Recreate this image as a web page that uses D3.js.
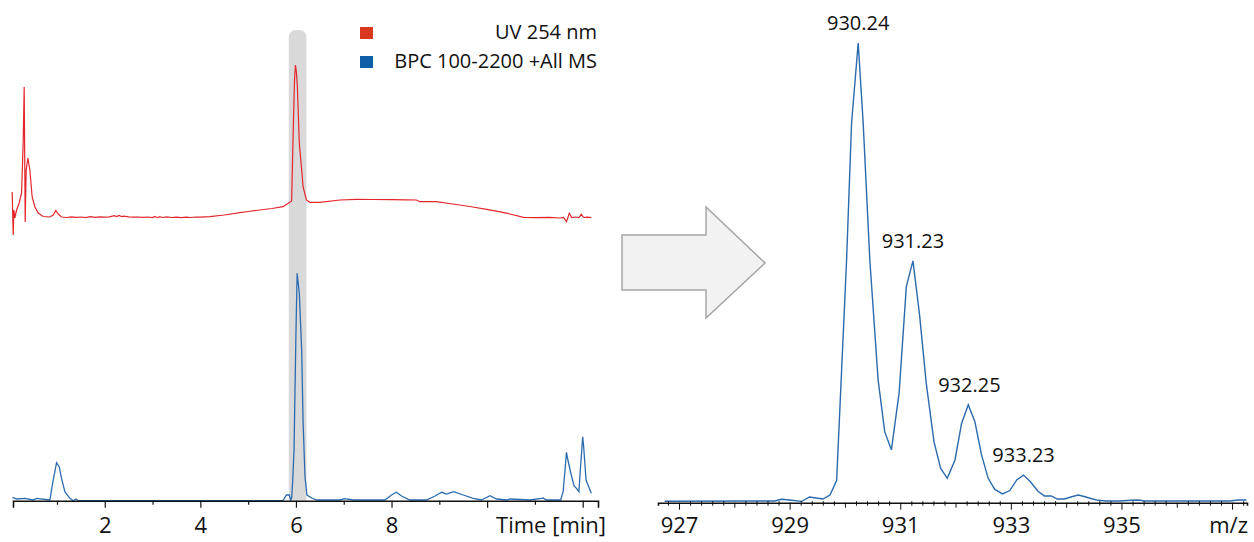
<!DOCTYPE html>
<html>
<head>
<meta charset="utf-8">
<script src="https://cdn.jsdelivr.net/npm/d3@7"></script>
<style>
    body { margin: 0; background: #fff; }
    text { font-family: "Open Sans", sans-serif; fill: #111; }
</style>
</head>
<body>
<div id="chart"></div>
<script>
// UV 254 nm trace (time in min, relative absorbance)
var uvTime = [0.063, 0.084, 0.098, 0.119, 0.155, 0.209, 0.259, 0.293, 0.314, 0.335,
    0.356, 0.391, 0.433, 0.481, 0.538, 0.607, 0.711, 0.851, 0.921, 0.977,
    1.025, 1.096, 1.2, 1.3, 1.4, 1.5, 1.6, 1.7, 1.8, 1.9,
    2.0, 2.1, 2.2, 2.25, 2.3, 2.35, 2.4, 2.5, 2.6, 2.7,
    2.8, 2.9, 3.0, 3.05, 3.1, 3.15, 3.2, 3.3, 3.4, 3.5,
    3.6, 3.7, 3.8, 3.9, 4.0, 4.2, 4.5, 4.83, 5.0, 5.24,
    5.5, 5.73, 5.84, 5.91, 5.94, 5.97, 5.99, 6.01, 6.03, 6.07,
    6.12, 6.15, 6.22, 6.29, 6.5, 6.92, 7.27, 7.6, 8.0, 8.3,
    8.52, 8.59, 8.94, 9.2, 9.43, 9.7, 9.99, 10.25, 10.48, 10.76,
    11.0, 11.3, 11.52, 11.6, 11.66, 11.72, 11.77, 11.85, 11.92, 11.97,
    12.02, 12.1, 12.18];
var uvSignal = [58, 15, 40, 32, 40, 47, 57, 107, 163, 28,
    80, 92, 80, 53, 43, 37, 33.5, 33, 35, 39.5,
    36, 33, 32.5, 33.2, 32.6, 33, 32.4, 33.3, 32.7, 33.1,
    32.8, 33.2, 34.3, 33.5, 34.6, 33.4, 33.8, 33.2, 32.8, 33,
    32.6, 33, 32.4, 33.6, 32.3, 33.4, 32.5, 33.1, 32.5, 32.9,
    32.4, 32.8, 32.5, 33, 32.8, 33.3, 35, 37.3, 38.5, 40,
    41.5, 43.3, 46.7, 49, 113, 170, 185, 178, 163, 107,
    80, 63, 50, 47.7, 47.7, 50, 50.7, 50.5, 50.3, 50.2,
    50, 48.3, 48.3, 46.5, 45, 43, 40.7, 38.3, 36, 32.7,
    32.3, 32.6, 32, 32.5, 28.3, 36.7, 32.5, 33, 32.4, 35.7,
    32.5, 32.8, 32.3];

// BPC 100-2200 +All MS trace
var bpcTime = [0.071, 0.155, 0.328, 0.502, 0.573, 0.851, 0.921, 0.992, 1.046, 1.096,
    1.165, 1.27, 1.339, 1.395, 1.444, 2.0, 3.0, 4.0, 5.0, 5.73,
    5.8, 5.86, 5.89, 5.91, 5.93, 5.96, 6.0, 6.025, 6.07, 6.12,
    6.15, 6.19, 6.23, 6.33, 6.43, 6.92, 7.02, 7.2, 7.86, 8.0,
    8.1, 8.21, 8.38, 8.73, 8.91, 9.05, 9.15, 9.3, 9.5, 9.71,
    9.88, 10.06, 10.2, 10.41, 10.48, 10.89, 11.14, 11.17, 11.24, 11.54,
    11.59, 11.63, 11.66, 11.69, 11.76, 11.82, 11.87, 11.92, 11.95, 12.0,
    12.02, 12.07, 12.11, 12.18];
var bpcSignal = [3.4, 1.7, 2.4, 0.7, 2.4, 0.7, 20.7, 38, 34, 22.4,
    9, 2.4, 0, 1.7, 0, 0, 0, 0, 0, 0,
    5.7, 5.7, 0.7, 2.7, 17.7, 50.7, 167, 227.4, 207.7, 150.7,
    77.7, 23.7, 5.7, 2.7, 0.7, 0.7, 2, 0.7, 0.7, 5.7,
    8.4, 4.7, 0.7, 0.7, 4.7, 8.4, 6.7, 9, 5.7, 2.4,
    0.7, 5, 1.7, 0.7, 1.7, 0.7, 2.4, 2.7, 0.7, 0.7,
    9, 30.7, 48.4, 40.7, 25.7, 14.7, 12.4, 9, 30.7, 64,
    54, 20.7, 15.7, 7.4];

// mass spectrum at 6.0 min
var msMz = [926.74, 928.73, 928.85, 929.0, 929.22, 929.36, 929.6, 929.73, 929.85, 930.03,
    930.12, 930.24, 930.33, 930.45, 930.6, 930.72, 930.84, 930.98, 931.11, 931.23,
    931.35, 931.47, 931.61, 931.73, 931.85, 931.99, 932.11, 932.23, 932.35, 932.47,
    932.59, 932.71, 932.85, 932.98, 933.11, 933.23, 933.35, 933.49, 933.61, 933.73,
    933.84, 933.97, 934.1, 934.22, 934.34, 934.46, 934.58, 934.73, 934.97, 935.18,
    935.3, 935.42, 936.96, 937.11, 937.26];
var msIntensity = [0.3, 0.37, 0.74, 0.59, 0.3, 1.24, 0.8, 1.67, 4.8, 52.8,
    82.6, 100, 82.6, 52.8, 26.7, 15.4, 11.5, 23.9, 47, 52.6,
    40.8, 26, 13.3, 7.5, 5.3, 9.3, 17.3, 21.3, 17.6, 10.4,
    5.3, 2.9, 1.9, 2.65, 5.0, 6.0, 4.6, 2.5, 1.46, 1.46,
    0.8, 0.8, 1.3, 1.67, 1.3, 0.87, 0.52, 0.37, 0.37, 0.52,
    0.59, 0.37, 0.37, 0.59, 0.59];

var peakLabels = [930.24, 931.23, 932.25, 933.23];
var peakHeights = [100, 52.6, 21.3, 6.0];

var legendNames = ["UV 254 nm", "BPC 100-2200 +All MS"];
var legendColors = ["#d9391f", "#0f5fa8"];

var timeTicks = d3.range(1, 13);
var timeLabels = [2, 4, 6, 8];
var mzLabels = [927, 929, 931, 933, 935];

var highlight = [5.85, 6.22]; // selected time window

var w = 1254, h = 542;

var svg = d3.select("#chart")
    .append("svg")
    .attr("width", w)
    .attr("height", h);

//----- left: chromatogram
var xTime = d3.scaleLinear().domain([0.08, 12.32]).range([13, 598]);
var yUV = d3.scaleLinear().domain([0, 185]).range([250, 65]);
var yBPC = d3.scaleLinear().domain([0, 227.4]).range([500.7, 273.3]);
var axisY = 500.7;

// grey band behind the 6 min peak
var bx0 = xTime(highlight[0]), bx1 = xTime(highlight[1]), r = 8;
svg.append("path")
    .attr("d", "M" + bx0 + "," + axisY + "V" + (30 + r) + "Q" + bx0 + ",30 " + (bx0 + r) + ",30"
        + "H" + (bx1 - r) + "Q" + bx1 + ",30 " + bx1 + "," + (30 + r) + "V" + axisY + "Z")
    .attr("fill", "#d9d9d9");

var uvLine = d3.line()
    .x(function (d, i) { return xTime(uvTime[i]); })
    .y(function (d) { return yUV(d); });

svg.append("path")
    .datum(uvSignal)
    .attr("d", uvLine)
    .attr("fill", "none")
    .attr("stroke", "#e3262b")
    .attr("stroke-width", 1.2);

var bpcLine = d3.line()
    .x(function (d, i) { return xTime(bpcTime[i]); })
    .y(function (d) { return yBPC(d); });

svg.append("path")
    .datum(bpcSignal)
    .attr("d", bpcLine)
    .attr("fill", "none")
    .attr("stroke", "#2b6cb0")
    .attr("stroke-width", 1.3);

var xTimeAxis = d3.axisBottom(xTime)
    .tickValues(timeTicks)
    .tickSizeOuter(0)
    .tickSize(7)
    .tickFormat(function (d) { return timeLabels.indexOf(d) >= 0 ? d : ""; });

var gt = svg.append("g")
    .attr("transform", "translate(0," + axisY + ")")
    .call(xTimeAxis);
gt.select(".domain").attr("stroke", "#111").attr("stroke-width", 1.6);
gt.selectAll(".tick line")
    .attr("stroke", "#111")
    .attr("stroke-width", 1.2)
    .attr("y2", function (d) { return d % 2 == 0 ? 7 : 4; });
gt.selectAll(".tick text")
    .attr("y", 32)
    .attr("dy", null)
    .attr("font-family", "Open Sans")
    .attr("font-size", "22px")
    .attr("fill", "#111");

svg.append("text")
    .text("Time [min]")
    .attr("x", 606)
    .attr("y", 533)
    .attr("text-anchor", "end")
    .attr("font-size", "22px");

// legend
var lg = svg.append("g").selectAll("g")
    .data(legendNames)
    .enter()
    .append("g");
lg.append("rect")
    .attr("x", 360)
    .attr("y", function (d, i) { return 27 + i * 29; })
    .attr("width", 13)
    .attr("height", 12)
    .attr("fill", function (d, i) { return legendColors[i]; });
lg.append("text")
    .text(function (d) { return d; })
    .attr("x", 597)
    .attr("y", function (d, i) { return 39 + i * 29; })
    .attr("text-anchor", "end")
    .attr("font-size", "20px");

//----- arrow
svg.append("path")
    .attr("d", "M622,235H706V207L765,263L706,318V290H622Z")
    .attr("fill", "#f2f2f2")
    .attr("stroke", "#a6a6a6")
    .attr("stroke-width", 1.5);

//----- right: mass spectrum
var xMz = d3.scaleLinear().domain([926.62, 937.27]).range([658, 1247]);
var yMS = d3.scaleLinear().domain([0, 100]).range([502.7, 43]);
var msAxisY = 502.7;

var msLine = d3.line()
    .x(function (d, i) { return xMz(msMz[i]); })
    .y(function (d) { return yMS(d); });

svg.append("path")
    .datum(msIntensity)
    .attr("d", msLine)
    .attr("fill", "none")
    .attr("stroke", "#2a6aad")
    .attr("stroke-width", 1.4);

var mzTicks = d3.range(0, 53).map(function (i) { return +(926.8 + i * 0.2).toFixed(1); });
var xMzAxis = d3.axisBottom(xMz)
    .tickValues(mzTicks)
    .tickSizeOuter(0)
    .tickSize(3)
    .tickFormat(function (d) { return mzLabels.indexOf(d) >= 0 ? d : ""; });

var gm = svg.append("g")
    .attr("transform", "translate(0," + msAxisY + ")")
    .call(xMzAxis);
gm.select(".domain").attr("stroke", "#111").attr("stroke-width", 1.6);
gm.selectAll(".tick line")
    .attr("stroke", "#111")
    .attr("stroke-width", 1)
    .attr("y1", function (d) { return Number.isInteger(d) ? 0 : -1.5; })
    .attr("y2", function (d) {
        if (!Number.isInteger(d)) return 3;
        return d % 2 == 1 ? 7 : 5;
    });
gm.selectAll(".tick text")
    .attr("y", 30)
    .attr("dy", null)
    .attr("font-family", "Open Sans")
    .attr("font-size", "22px")
    .attr("fill", "#111");

svg.append("text")
    .text("m/z")
    .attr("x", 1248)
    .attr("y", 533)
    .attr("text-anchor", "end")
    .attr("font-size", "22px");

// peak labels
svg.append("g").selectAll("text")
    .data(peakLabels)
    .enter()
    .append("text")
    .text(function (d) { return d.toFixed(2); })
    .attr("x", function (d) { return xMz(d); })
    .attr("y", function (d, i) { return yMS(peakHeights[i]) - 13; })
    .attr("text-anchor", "middle")
    .attr("font-size", "20px");
</script>
</body>
</html>
